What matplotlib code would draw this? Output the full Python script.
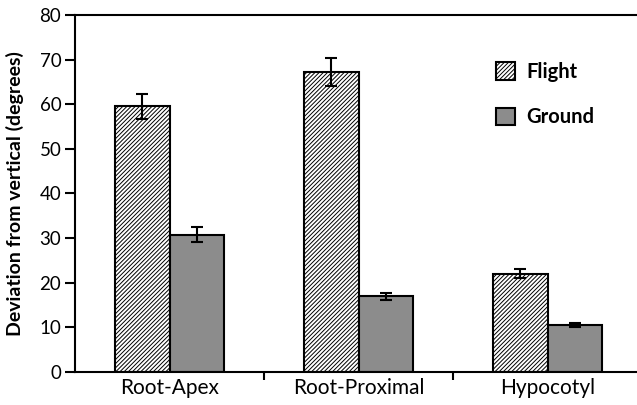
import matplotlib.pyplot as plt
import numpy as np

plt.rcParams['font.family'] = ['Lato', 'DejaVu Sans']
plt.rcParams['hatch.linewidth'] = 0.7

categories = ['Root-Apex', 'Root-Proximal', 'Hypocotyl']
flight = [59.5, 67.2, 22.0]
flight_err = [2.9, 3.2, 1.0]
ground = [30.8, 17.0, 10.5]
ground_err = [1.6, 0.8, 0.5]

x = np.arange(len(categories))
w = 0.29

fig = plt.figure(figsize=(6.37, 4.05), dpi=100)
ax = fig.add_axes([0.118, 0.0815, 0.89, 0.8815])

ax.bar(x - w/2, flight, w, color='white', edgecolor='black', hatch='////////',
       linewidth=1.5, label='Flight')
ax.bar(x + w/2, ground, w, color='#8c8c8c', edgecolor='black',
       linewidth=1.5, label='Ground')
ax.errorbar(x - w/2, flight, yerr=flight_err, fmt='none', ecolor='black',
            elinewidth=1.5, capsize=4, capthick=1.5)
ax.errorbar(x + w/2, ground, yerr=ground_err, fmt='none', ecolor='black',
            elinewidth=1.5, capsize=4, capthick=1.5)

ax.set_xlim(-0.5, 2.5)
ax.set_ylim(0, 80)
ax.set_yticks(range(0, 81, 10))
ax.set_xticks(x)
ax.set_xticklabels(categories, fontsize=15)
ax.set_xticks([0.5, 1.5], minor=True)
ax.tick_params(axis='x', which='major', length=0, pad=4)
ax.tick_params(axis='x', which='minor', length=6, width=1.5, direction='out')
ax.tick_params(axis='y', length=7, width=1.5, labelsize=13.5, pad=3)
ax.set_ylabel('Deviation from vertical (degrees)', fontsize=14,
              fontweight='bold', labelpad=11)
for s in ['left', 'bottom', 'top']:
    ax.spines[s].set_linewidth(1.5)
ax.spines['right'].set_visible(False)

leg = ax.legend(loc='upper left', bbox_to_anchor=(486/637, 1 - 52/405),
                bbox_transform=fig.transFigure, frameon=False, borderpad=0,
                prop={'weight': 'bold', 'size': 14.5}, handlelength=0.95,
                handleheight=0.95, labelspacing=1.25, handletextpad=0.55)

fig.savefig('out.png', dpi=100)
